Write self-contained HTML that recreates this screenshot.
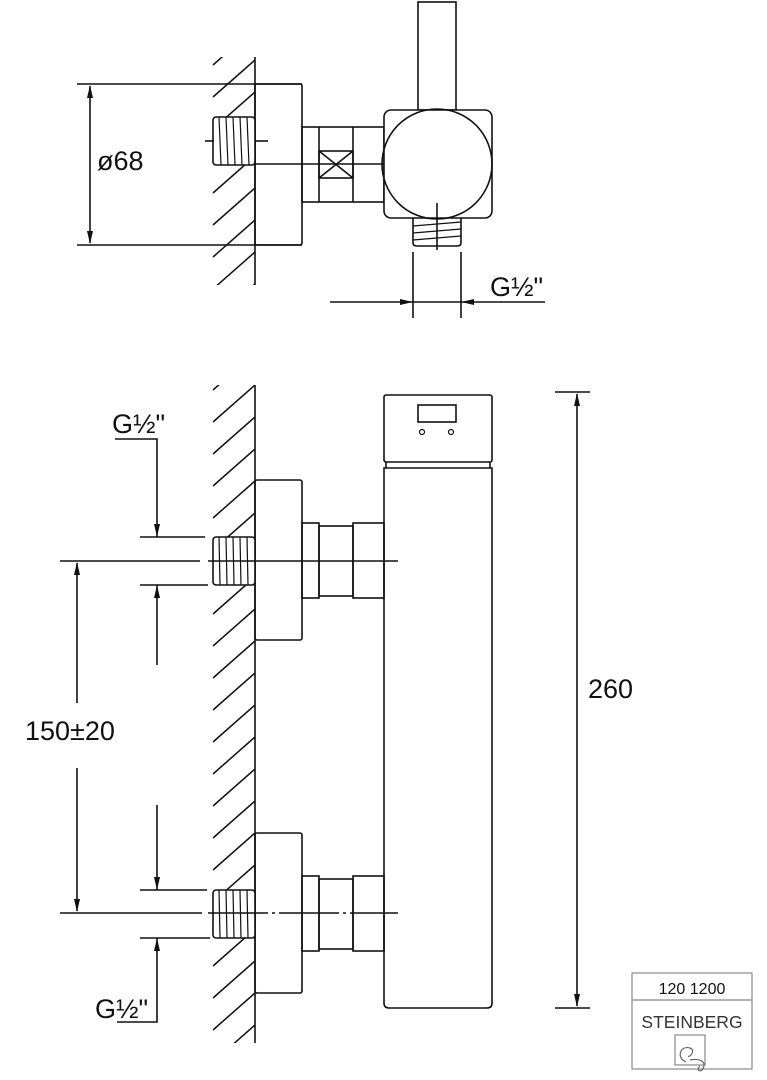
<!DOCTYPE html>
<html><head><meta charset="utf-8"><style>
html,body{margin:0;padding:0;background:#fff}
svg{display:block}
text{font-family:"Liberation Sans",sans-serif;fill:#111}
</style></head><body>
<svg width="767" height="1080" viewBox="0 0 767 1080" xmlns="http://www.w3.org/2000/svg">
<defs>
<clipPath id="c1"><rect x="205" y="57" width="50" height="228"/></clipPath>
<clipPath id="c2"><rect x="205" y="385" width="50" height="658"/></clipPath>
</defs>
<g stroke="#111" stroke-width="1.6" fill="none">
<g clip-path="url(#c1)" stroke-width="1.5">
<line x1="213" y1="65" x2="255" y2="28"/><line x1="213" y1="97" x2="255" y2="60"/>
<line x1="213" y1="129" x2="255" y2="92"/><line x1="213" y1="161" x2="255" y2="124"/>
<line x1="213" y1="193" x2="255" y2="156"/><line x1="213" y1="225" x2="255" y2="188"/>
<line x1="213" y1="257" x2="255" y2="220"/><line x1="213" y1="289" x2="255" y2="252"/>
<line x1="213" y1="321" x2="255" y2="284"/>
</g>
<line x1="255" y1="57" x2="255" y2="285"/>
<line x1="77" y1="84" x2="302" y2="84"/><line x1="77" y1="245" x2="302" y2="245"/>
<line x1="90" y1="86" x2="90" y2="243"/>
<rect x="255" y="84" width="47" height="161" rx="2"/>
<rect x="213" y="117" width="42" height="48" rx="3" fill="#fff"/>
<g stroke-width="1.2"><line x1="219" y1="117" x2="221" y2="165"/><line x1="226" y1="117" x2="228" y2="165"/><line x1="233" y1="117" x2="235" y2="165"/><line x1="240" y1="117" x2="242" y2="165"/><line x1="247" y1="117" x2="249" y2="165"/></g>
<line x1="205" y1="141" x2="214" y2="141"/><line x1="255" y1="141" x2="268" y2="141"/>
<rect x="302" y="127" width="82" height="75"/>
<line x1="319" y1="127" x2="319" y2="202"/><line x1="353" y1="127" x2="353" y2="202"/>
<rect x="319" y="151" width="34" height="27"/>
<line x1="319" y1="151" x2="353" y2="178"/><line x1="319" y1="178" x2="353" y2="151"/>
<line x1="255" y1="164" x2="393" y2="164"/>
<rect x="418" y="2" width="38" height="108"/>
<rect x="384" y="110" width="108" height="108" rx="7" fill="#fff"/>
<circle cx="437" cy="164" r="55"/>
<path d="M413 218 V243 Q413 246 417 246 H457 Q461 246 461 243 V218"/>
<g stroke-width="1.2"><line x1="413" y1="226" x2="461" y2="222"/><line x1="413" y1="233" x2="461" y2="229"/><line x1="413" y1="240" x2="461" y2="236"/></g>
<line x1="437" y1="203" x2="437" y2="250"/>
<line x1="413" y1="252" x2="413" y2="318"/><line x1="461" y1="252" x2="461" y2="318"/>
<line x1="330" y1="302" x2="545" y2="302"/>

<g clip-path="url(#c2)" stroke-width="1.5">
<line x1="213" y1="390" x2="255" y2="353"/><line x1="213" y1="422" x2="255" y2="385"/>
<line x1="213" y1="454" x2="255" y2="417"/><line x1="213" y1="486" x2="255" y2="449"/>
<line x1="213" y1="518" x2="255" y2="481"/><line x1="213" y1="550" x2="255" y2="513"/>
<line x1="213" y1="582" x2="255" y2="545"/><line x1="213" y1="614" x2="255" y2="577"/>
<line x1="213" y1="646" x2="255" y2="609"/><line x1="213" y1="678" x2="255" y2="641"/>
<line x1="213" y1="710" x2="255" y2="673"/><line x1="213" y1="742" x2="255" y2="705"/>
<line x1="213" y1="774" x2="255" y2="737"/><line x1="213" y1="806" x2="255" y2="769"/>
<line x1="213" y1="838" x2="255" y2="801"/><line x1="213" y1="870" x2="255" y2="833"/>
<line x1="213" y1="902" x2="255" y2="865"/><line x1="213" y1="934" x2="255" y2="897"/>
<line x1="213" y1="966" x2="255" y2="929"/><line x1="213" y1="998" x2="255" y2="961"/>
<line x1="213" y1="1030" x2="255" y2="993"/><line x1="213" y1="1062" x2="255" y2="1025"/>
<line x1="213" y1="1094" x2="255" y2="1057"/>
</g>
<line x1="255" y1="385" x2="255" y2="1043"/>
<rect x="384" y="395" width="108" height="67" rx="2"/>
<rect x="418" y="405" width="38" height="17"/>
<circle cx="422" cy="432" r="2.5" stroke-width="1.2"/><circle cx="451" cy="432" r="2.5" stroke-width="1.2"/>
<path d="M386 462 V468 M490 462 V468"/>
<path d="M384 468 H492 V1003 Q492 1008 487 1008 H389 Q384 1008 384 1003 Z"/>
<rect x="255" y="480" width="47" height="160" rx="2"/>
<rect x="255" y="833" width="47" height="160" rx="2"/>
<rect x="302" y="523" width="17" height="75"/><rect x="319" y="526" width="34" height="70"/><rect x="353" y="523" width="31" height="75"/>
<rect x="302" y="876" width="17" height="75"/><rect x="319" y="879" width="34" height="70"/><rect x="353" y="876" width="31" height="75"/>
<rect x="213" y="537" width="42" height="48" rx="3" fill="#fff"/>
<g stroke-width="1.2"><line x1="219" y1="537" x2="220" y2="585"/><line x1="226" y1="537" x2="227" y2="585"/><line x1="233" y1="537" x2="234" y2="585"/><line x1="240" y1="537" x2="241" y2="585"/><line x1="247" y1="537" x2="248" y2="585"/></g>
<rect x="213" y="890" width="42" height="48" rx="3" fill="#fff"/>
<g stroke-width="1.2"><line x1="219" y1="890" x2="220" y2="938"/><line x1="226" y1="890" x2="227" y2="938"/><line x1="233" y1="890" x2="234" y2="938"/><line x1="240" y1="890" x2="241" y2="938"/><line x1="247" y1="890" x2="248" y2="938"/></g>
<line x1="60" y1="561" x2="200" y2="561"/><line x1="208" y1="561" x2="398" y2="561"/>
<line x1="60" y1="913" x2="202" y2="913"/><line x1="208" y1="913" x2="398" y2="913" stroke-dasharray="60 4 3 4"/>
<polyline points="115,439 157,439 157,537"/>
<line x1="140" y1="537" x2="205" y2="537"/><line x1="140" y1="585" x2="208" y2="585"/>
<line x1="157" y1="585" x2="157" y2="665"/>
<line x1="77" y1="563" x2="77" y2="703"/><line x1="77" y1="768" x2="77" y2="911"/>
<line x1="157" y1="805" x2="157" y2="890"/>
<line x1="140" y1="890" x2="207" y2="890"/><line x1="140" y1="938" x2="210" y2="938"/>
<polyline points="117,1022 157,1022 157,938"/>
<line x1="555" y1="392" x2="590" y2="392"/><line x1="555" y1="1008" x2="590" y2="1008"/>
<line x1="577" y1="394" x2="577" y2="1006"/>
</g>
<g fill="#111">
<polygon points="90,85 87,98 93,98"/><polygon points="90,244 87,231 93,231"/>
<polygon points="413,302 400,299 400,305"/><polygon points="461,302 474,299 474,305"/>
<polygon points="157,537 154,524 160,524"/><polygon points="157,585 154,598 160,598"/>
<polygon points="77,562 74,575 80,575"/><polygon points="77,912 74,899 80,899"/>
<polygon points="157,890 154,877 160,877"/><polygon points="157,938 154,951 160,951"/>
<polygon points="577,393 574,406 580,406"/><polygon points="577,1007 574,994 580,994"/>
</g>
<text x="97" y="170" font-size="27">ø68</text>
<text x="490" y="296" font-size="27">G½"</text>
<text x="112" y="433" font-size="27">G½"</text>
<text x="25" y="740" font-size="27">150±20</text>
<text x="95" y="1018" font-size="27">G½"</text>
<text x="588" y="698" font-size="27">260</text>
<g stroke="#888" stroke-width="1.2" fill="none">
<rect x="632" y="973" width="120" height="96"/>
<line x1="632" y1="1000" x2="752" y2="1000"/>
<rect x="675" y="1035" width="30" height="30"/>
<path d="M686 1062 C676 1058 680 1045 690 1048 C696 1050 690 1058 688 1056 M690 1060 C700 1058 708 1062 702 1070 C698 1073 697 1068 700 1066" stroke="#666"/>
</g>
<text x="692" y="994" font-size="16" text-anchor="middle">120 1200</text>
<text x="692" y="1028" font-size="17.5" text-anchor="middle" style="fill:#333">STEINBERG</text>
</svg>
</body></html>
